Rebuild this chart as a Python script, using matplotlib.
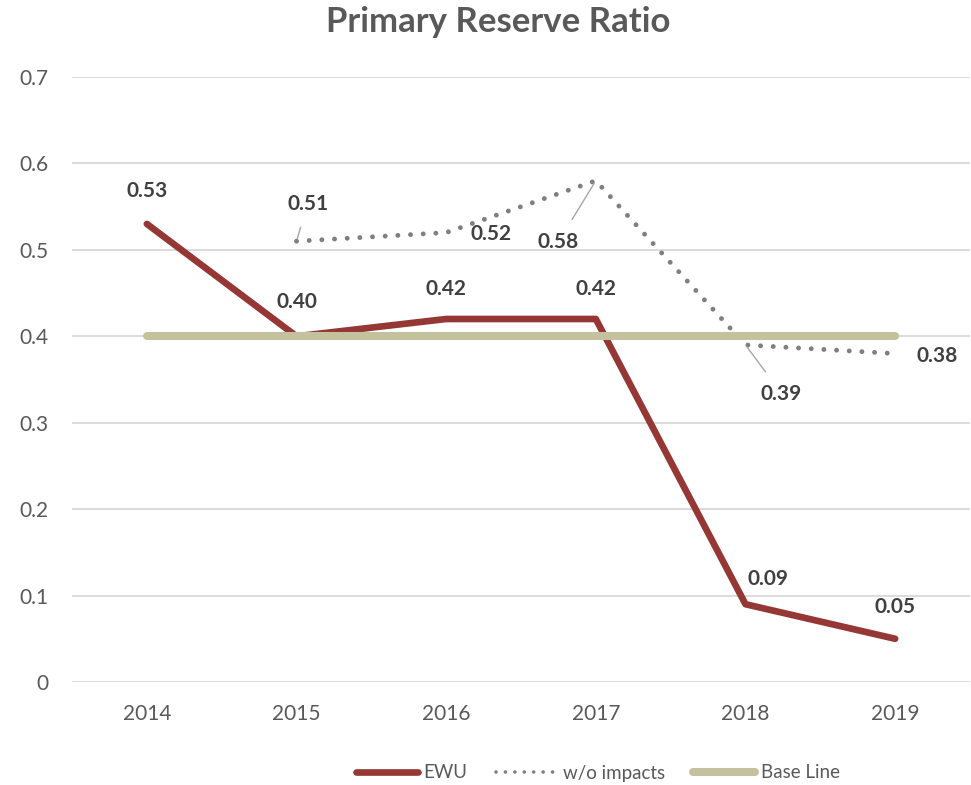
import numpy as np
import matplotlib
matplotlib.use('Agg')
from matplotlib import pyplot as plt
from matplotlib.lines import Line2D

plt.rcParams['font.family'] = ['Lato', 'DejaVu Sans']

# data
years = ['2014', '2015', '2016', '2017', '2018', '2019']
ewu = [0.53, 0.40, 0.42, 0.42, 0.09, 0.05]
wo_impacts = [np.nan, 0.51, 0.52, 0.58, 0.39, 0.38]
base_line = [0.40, 0.40, 0.40, 0.40, 0.40, 0.40]
y_ticks = [0, 0.1, 0.2, 0.3, 0.4, 0.5, 0.6, 0.7]
y_tick_labels = ['0', '0.1', '0.2', '0.3', '0.4', '0.5', '0.6', '0.7']

# label offsets (points) for the data labels
ewu_offsets = [(0, 24), (0, 24.5), (0, 21.5), (0, 21.5), (16.5, 18), (0, 23)]
wo_offsets = [None, (8, 27), (32, -1), (-27, -44), (26, -35), (30, -1.5)]
wo_leader = [False, True, False, True, True, False]

red = '#953735'
gray_dot = '#7F7F7F'
tan = '#C4C29E'
text_gray = '#595959'
label_col = '#404040'

fig = plt.figure(figsize=(9.71, 7.85), dpi=100)
ax = fig.add_axes([72 / 971, 103 / 785, 898 / 971, 605 / 785])

x = np.arange(len(years))

dot_style = (0, (0.01, 2.6))

ax.plot(x, ewu, color=red, lw=4.8, solid_capstyle='round', solid_joinstyle='round', zorder=3)
ax.plot(x, wo_impacts, color=gray_dot, lw=3.5, linestyle=dot_style,
        dash_capstyle='round', zorder=4)
ax.plot(x, base_line, color=tan, lw=5.8, solid_capstyle='round', zorder=5)

for xi, v, off in zip(x, ewu, ewu_offsets):
    ax.annotate(f'{v:.2f}', (xi, v), xytext=off, textcoords='offset points',
                ha='center', va='center', fontsize=15, fontweight='bold',
                color=label_col, zorder=6)

for xi, v, off, lead in zip(x, wo_impacts, wo_offsets, wo_leader):
    if np.isnan(v):
        continue
    props = None
    if lead:
        props = dict(arrowstyle='-', color='#A6A6A6', lw=1.0, shrinkA=8, shrinkB=2)
    ax.annotate(f'{v:.2f}', (xi, v), xytext=off, textcoords='offset points',
                ha='center', va='center', fontsize=15, fontweight='bold',
                color=label_col, arrowprops=props, zorder=6)

ax.set_xlim(-0.5, len(years) - 0.5)
ax.set_ylim(0, 0.7)
ax.set_xticks(x)
ax.set_xticklabels(years)
ax.set_yticks(y_ticks)
ax.set_yticklabels(y_tick_labels)
ax.tick_params(axis='both', length=0, labelsize=15, labelcolor=text_gray)
ax.tick_params(axis='x', pad=16)
ax.tick_params(axis='y', pad=17)
ax.grid(axis='y', color='#D9D9D9', lw=1.3)
ax.set_axisbelow(True)
for s in ax.spines.values():
    s.set_visible(False)

fig.text(498 / 971, 1 - 22 / 785, 'Primary Reserve Ratio', ha='center', va='center',
         fontsize=25, fontweight='bold', color=text_gray)

handles = [
    Line2D([], [], color=red, lw=4.8, solid_capstyle='round'),
    Line2D([], [], color=gray_dot, lw=2.6, linestyle=(0, (0.01, 2.6)), dash_capstyle='round'),
    Line2D([], [], color=tan, lw=5.8, solid_capstyle='round'),
]
leg = fig.legend(handles, ['EWU', 'w/o impacts', 'Base Line'], loc='center',
                 bbox_to_anchor=(598 / 971, 1 - 773 / 785), ncol=3, frameon=False,
                 fontsize=13.5, handlelength=3.3, handletextpad=0.3, columnspacing=1.5)
for t in leg.get_texts():
    t.set_color(text_gray)

fig.savefig('out.png', dpi=100)
